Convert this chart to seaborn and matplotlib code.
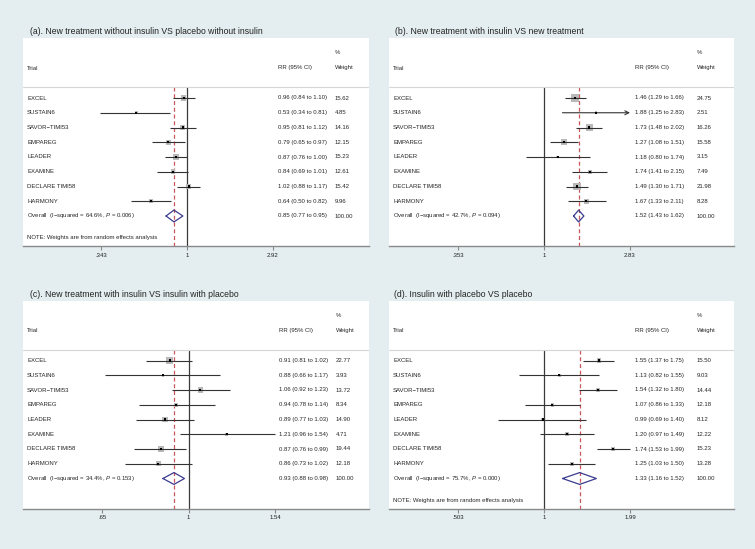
import numpy as np
import pandas as pd
import matplotlib
matplotlib.use("Agg")
import matplotlib.pyplot as plt
import matplotlib.transforms as mtransforms
import seaborn as sns

# ---------------- data ----------------
trials = ["EXCEL", "SUSTAIN6", "SAVOR\u2212TIMI53", "EMPAREG", "LEADER",
          "EXAMINE", "DECLARE TIMI58", "HARMONY"]

a_title = "(a). New treatment without insulin VS placebo without insulin"
a_rr = [0.96, 0.53, 0.95, 0.79, 0.87, 0.84, 1.02, 0.64]
a_lo = [0.84, 0.34, 0.81, 0.65, 0.76, 0.69, 0.88, 0.50]
a_hi = [1.10, 0.81, 1.12, 0.97, 1.00, 1.01, 1.17, 0.82]
a_w = [15.62, 4.85, 14.16, 12.15, 15.23, 12.61, 15.42, 9.96]
a_overall = [0.85, 0.77, 0.95]
a_i2, a_p = 64.6, 0.006
a_ticks = [0.343, 1, 2.92]
a_ticklabels = [".343", "1", "2.92"]

b_title = "(b). New treatment with insulin VS new treatment"
b_rr = [1.46, 1.88, 1.73, 1.27, 1.18, 1.74, 1.49, 1.67]
b_lo = [1.29, 1.25, 1.48, 1.08, 0.80, 1.41, 1.30, 1.33]
b_hi = [1.66, 2.83, 2.02, 1.51, 1.74, 2.15, 1.71, 2.11]
b_w = [24.75, 2.51, 16.26, 15.58, 3.15, 7.49, 21.98, 8.28]
b_overall = [1.52, 1.43, 1.62]
b_i2, b_p = 42.7, 0.094
b_ticks = [0.353, 1, 2.83]
b_ticklabels = [".353", "1", "2.83"]
b_arrow = ["SUSTAIN6"]

c_title = "(c). New treatment with insulin VS insulin with placebo"
c_rr = [0.91, 0.88, 1.06, 0.94, 0.89, 1.21, 0.87, 0.86]
c_lo = [0.81, 0.66, 0.92, 0.78, 0.77, 0.96, 0.76, 0.73]
c_hi = [1.02, 1.17, 1.23, 1.14, 1.03, 1.54, 0.99, 1.02]
c_w = [22.77, 3.93, 13.72, 8.34, 14.90, 4.71, 19.44, 12.18]
c_overall = [0.93, 0.88, 0.98]
c_i2, c_p = 34.4, 0.153
c_ticks = [0.65, 1, 1.54]
c_ticklabels = [".65", "1", "1.54"]

d_title = "(d). Insulin with placebo VS placebo"
d_rr = [1.55, 1.13, 1.54, 1.07, 0.99, 1.20, 1.74, 1.25]
d_lo = [1.37, 0.82, 1.32, 0.86, 0.69, 0.97, 1.53, 1.03]
d_hi = [1.75, 1.55, 1.80, 1.33, 1.40, 1.49, 1.99, 1.50]
d_w = [15.50, 9.03, 14.44, 12.18, 8.12, 12.22, 15.23, 13.28]
d_overall = [1.33, 1.16, 1.52]
d_i2, d_p = 75.7, 0.000
d_ticks = [0.503, 1, 1.99]
d_ticklabels = [".503", "1", "1.99"]

note_text = "NOTE: Weights are from random effects analysis"

# ---------------- style ----------------
sns.set_theme(style="white")
plt.rcParams['font.family'] = ['Liberation Sans', 'DejaVu Sans']
plt.rcParams['mathtext.fontset'] = 'custom'
plt.rcParams['mathtext.rm'] = 'Liberation Sans'
plt.rcParams['mathtext.it'] = 'Liberation Sans:italic'

BG = '#e4edf0'
W, H = 755, 549
ROW0, ROWSTEP, AXH = 60.0, 14.75, 208.0
FS = 4.3
TFS = 6.2

fig = plt.figure(figsize=(7.55, 5.49), dpi=100, facecolor=BG)


def r(px):
    return (px - ROW0) / ROWSTEP


def panel(title, rr, lo, hi, w, overall, i2, p, ticks, ticklabels, lay,
          note=False, arrows=()):
    left, right, top = lay['left'], lay['right'], lay['top']
    ax = fig.add_axes([left / W, 1 - (top + AXH) / H,
                       (right - left) / W, AXH / H])
    ax.set_facecolor('white')
    x1 = lay['x1']
    ppl = (lay['thi'] - x1) / np.log(ticks[-1])
    ax.set_xscale('log')
    ax.set_xlim(np.exp((left - x1) / ppl), np.exp((right - x1) / ppl))
    ax.set_ylim(r(AXH), r(0))

    df = pd.DataFrame({'trial': trials, 'rr': rr, 'lo': lo, 'hi': hi, 'w': w})
    df['row'] = np.arange(len(df))
    n = len(df)
    sep = r(49)
    bottom = r(AXH)

    # reference lines
    ax.plot([1, 1], [sep, bottom], color='#3a3a3a', lw=0.9, zorder=1)
    ax.plot([overall[0]] * 2, [sep, bottom], color='#c8575a', lw=0.9,
            dashes=(3.2, 2.2), zorder=1)
    ax.axhline(sep, color='#d6d6d6', lw=0.8, zorder=1)

    # boxes
    sns.scatterplot(data=df, x='rr', y='row', marker='s',
                    s=np.array(w) * lay['k'], color='#b9b9b9',
                    edgecolor='none', linewidth=0, ax=ax, legend=False,
                    zorder=2)
    # CI lines
    for _, row in df.iterrows():
        if row['trial'] in arrows:
            ax.annotate('', xy=(row['hi'], row['row']),
                        xytext=(row['lo'], row['row']),
                        arrowprops=dict(arrowstyle='->', lw=0.8,
                                        color='#333333', shrinkA=0,
                                        shrinkB=0, mutation_scale=7),
                        zorder=3)
        else:
            ax.hlines(row['row'], row['lo'], row['hi'], color='#333333',
                      lw=0.8, zorder=3)
    # point estimates
    sns.scatterplot(data=df, x='rr', y='row', marker='s', s=2.2,
                    color='black', edgecolor='none', linewidth=0, ax=ax,
                    legend=False, zorder=4)

    # overall diamond
    est, olo, ohi = overall
    h = 0.4
    ax.plot([olo, est, ohi, est, olo], [n - 0, n - h, n, n + h, n],
            color='#3b3b8e', lw=0.9, zorder=5)

    # table text
    trans = mtransforms.blended_transform_factory(ax.transAxes, ax.transData)
    fx = lambda px: (px - left) / (right - left)
    ax.text(fx(lay['wt']), r(15), "%", transform=trans, va='center',
            ha='left', fontsize=FS)
    ax.text(fx(lay['trial']), r(30), "Trial", transform=trans, va='center',
            ha='left', fontsize=FS)
    ax.text(fx(lay['rrx']), r(30), "RR (95% CI)", transform=trans,
            va='center', ha='left', fontsize=FS)
    ax.text(fx(lay['wt']), r(30), "Weight", transform=trans, va='center',
            ha='left', fontsize=FS)
    for _, row in df.iterrows():
        y = row['row']
        ax.text(fx(lay['trial']), y, row['trial'], transform=trans,
                va='center', ha='left', fontsize=FS)
        ax.text(fx(lay['rrx']), y,
                f"{row['rr']:.2f} ({row['lo']:.2f} to {row['hi']:.2f})",
                transform=trans, va='center', ha='left', fontsize=FS)
        ax.text(fx(lay['wt']), y, f"{row['w']:.2f}", transform=trans,
                va='center', ha='left', fontsize=FS)
    ax.text(fx(lay['trial']), n,
            f"Overall  (I\u2212squared = {i2:.1f}%, $P$ = {p:.3f})",
            transform=trans, va='center', ha='left', fontsize=FS)
    ax.text(fx(lay['rrx']), n, f"{est:.2f} ({olo:.2f} to {ohi:.2f})",
            transform=trans, va='center', ha='left', fontsize=FS)
    ax.text(fx(lay['wt']), n, "100.00", transform=trans, va='center',
            ha='left', fontsize=FS)
    if note:
        ax.text(fx(lay['trial']), r(200), note_text, transform=trans,
                va='center', ha='left', fontsize=FS)

    # axes styling
    for s in ['top', 'left', 'right']:
        ax.spines[s].set_visible(False)
    ax.spines['bottom'].set_color('#8a8a8a')
    ax.spines['bottom'].set_linewidth(1.0)
    ax.set_xticks(ticks)
    ax.set_xticklabels(ticklabels)
    ax.xaxis.set_minor_locator(matplotlib.ticker.NullLocator())
    ax.tick_params(axis='x', which='major', bottom=True, length=3, width=0.8,
                   color='#8a8a8a', labelsize=FS, pad=2, labelcolor='#222222')
    ax.set_yticks([])
    ax.set_xlabel('')
    ax.set_ylabel('')

    fig.text(lay['tx'] / W, 1 - lay['ty'] / H, title, fontsize=TFS,
             va='center', ha='left', color='#222222')
    return ax


lay_a = dict(left=23, right=369, top=38, x1=187, thi=273, trial=27, rrx=278,
             wt=335, tx=30, ty=32, k=1.0)
lay_b = dict(left=389, right=734, top=38, x1=544, thi=630, trial=393,
             rrx=635, wt=697, tx=395, ty=32, k=1.35)
lay_c = dict(left=23, right=369, top=300.5, x1=188.5, thi=275, trial=27,
             rrx=279, wt=336, tx=30, ty=294.5, k=1.0)
lay_d = dict(left=389, right=734, top=300.5, x1=544, thi=630, trial=393,
             rrx=635, wt=697, tx=394, ty=294.5, k=0.55)

panel(a_title, a_rr, a_lo, a_hi, a_w, a_overall, a_i2, a_p, a_ticks,
      a_ticklabels, lay_a, note=True)
panel(b_title, b_rr, b_lo, b_hi, b_w, b_overall, b_i2, b_p, b_ticks,
      b_ticklabels, lay_b, arrows=b_arrow)
panel(c_title, c_rr, c_lo, c_hi, c_w, c_overall, c_i2, c_p, c_ticks,
      c_ticklabels, lay_c)
panel(d_title, d_rr, d_lo, d_hi, d_w, d_overall, d_i2, d_p, d_ticks,
      d_ticklabels, lay_d, note=True)

fig.savefig("out.png", dpi=100, facecolor=BG)
